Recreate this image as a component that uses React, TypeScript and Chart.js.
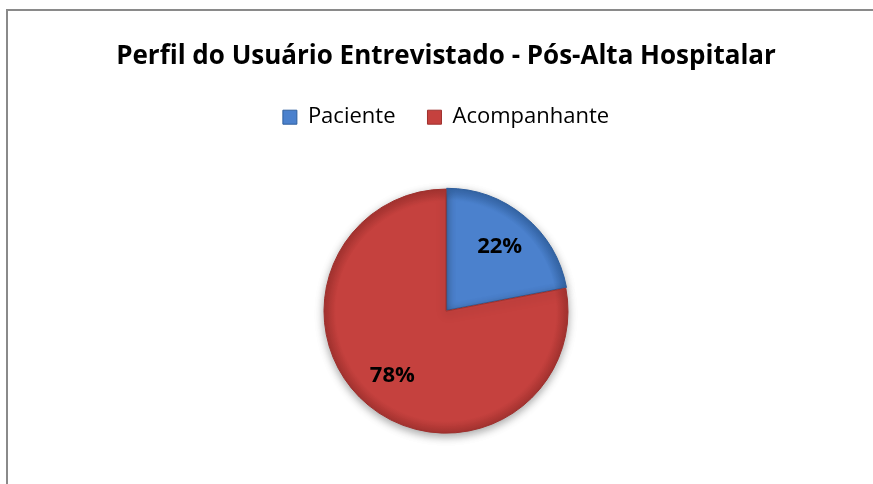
import React, { useEffect, useRef } from "react";
import { Chart, registerables } from "chart.js";

Chart.register(...registerables);

const titleText = "Perfil do Usuário Entrevistado - Pós-Alta Hospitalar";
const categories = ["Paciente", "Acompanhante"];
const values = [22, 78];
const baseColors = ["#4b81cd", "#c5413e"];
const edgeColors = ["#2f5f9e", "#9e302d"];
const FONT = "'Open Sans', Lato, sans-serif";

const framePlugin = {
  id: "frame",
  beforeDraw(chart: any) {
    const ctx = chart.ctx;
    ctx.save();
    ctx.fillStyle = "#ffffff";
    ctx.fillRect(0, 0, chart.width, chart.height);
    ctx.strokeStyle = "#8a8a8a";
    ctx.lineWidth = 2;
    ctx.beginPath();
    ctx.moveTo(7, chart.height + 5);
    ctx.lineTo(7, 10);
    ctx.lineTo(chart.width + 5, 10);
    ctx.stroke();
    ctx.restore();
  },
};

const shadowPlugin = {
  id: "pieShadow",
  beforeDatasetsDraw(chart: any) {
    const ctx = chart.ctx;
    ctx.save();
    ctx.shadowColor = "rgba(0,0,0,0.35)";
    ctx.shadowBlur = 8;
    ctx.shadowOffsetX = 0;
    ctx.shadowOffsetY = 3;
  },
  afterDatasetsDraw(chart: any) {
    chart.ctx.restore();
  },
};

const labelPlugin = {
  id: "sliceLabels",
  afterDatasetsDraw(chart: any) {
    const ctx = chart.ctx;
    const meta = chart.getDatasetMeta(0);
    const data = chart.data.datasets[0].data as number[];
    const total = data.reduce((a, b) => a + b, 0);
    ctx.save();
    ctx.shadowColor = "transparent";
    ctx.fillStyle = "#000000";
    ctx.font = "bold 22px " + FONT;
    ctx.textAlign = "center";
    ctx.textBaseline = "middle";
    meta.data.forEach((arc: any, i: number) => {
      const p = arc.getProps(["x", "y", "startAngle", "endAngle", "outerRadius"], true);
      const mid = (p.startAngle + p.endAngle) / 2;
      const r = p.outerRadius * 0.69;
      const pct = Math.round((data[i] / total) * 100) + "%";
      ctx.fillText(pct, p.x + Math.cos(mid) * r, p.y + Math.sin(mid) * r);
    });
    ctx.restore();
  },
};

export default function App() {
  const ref = useRef<HTMLCanvasElement | null>(null);
  useEffect(() => {
    if (!ref.current) return;
    const chart = new Chart(ref.current, {
      type: "pie",
      data: {
        labels: categories,
        datasets: [
          {
            data: values,
            backgroundColor: (c: any) => {
              const chart = c.chart;
              const area = chart.chartArea;
              const i = c.dataIndex ?? 0;
              if (!area) return baseColors[i];
              const cx = (area.left + area.right) / 2;
              const cy = (area.top + area.bottom) / 2;
              const g = chart.ctx.createRadialGradient(cx, cy, 0, cx, cy, 125);
              g.addColorStop(0, baseColors[i]);
              g.addColorStop(0.88, baseColors[i]);
              g.addColorStop(1, edgeColors[i]);
              return g;
            },
            borderColor: edgeColors,
            borderWidth: 1,
            offset: [4, 0],
          },
        ],
      },
      options: {
        animation: false,
        responsive: true,
        maintainAspectRatio: false,
        radius: 122,
        layout: { padding: { left: 19, right: 0, top: 0, bottom: 0 } },
        plugins: {
          tooltip: { enabled: false },
          title: {
            display: true,
            text: titleText,
            color: "#000000",
            font: { family: FONT, size: 26, weight: "bold" },
            padding: { top: 41, bottom: 2 },
          },
          legend: {
            display: true,
            position: "top",
            labels: {
              color: "#000000",
              font: { family: FONT, size: 22 },
              boxWidth: 14,
              boxHeight: 14,
              padding: 32,
              generateLabels: (ch: any) =>
                ch.data.labels.map((l: string, i: number) => ({
                  text: l,
                  fillStyle: baseColors[i],
                  strokeStyle: edgeColors[i],
                  lineWidth: 1,
                  hidden: false,
                  index: i,
                  fontColor: "#000000",
                })),
            },
          },
        },
      } as any,
      plugins: [framePlugin, shadowPlugin, labelPlugin],
    });
    return () => chart.destroy();
  }, []);
  return (
    <div style={{ position: "absolute", left: 0, top: 0, width: 873, height: 484 }}>
      <canvas ref={ref} />
    </div>
  );
}
